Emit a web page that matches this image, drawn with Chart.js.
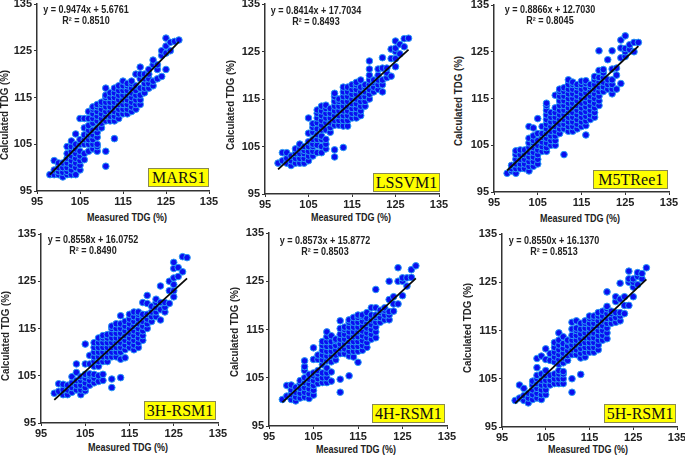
<!DOCTYPE html>
<html><head><meta charset="utf-8">
<style>
html,body{margin:0;padding:0;background:#fff;width:685px;height:456px;overflow:hidden}
body{filter:blur(0.35px)}
canvas{position:absolute}
.t{position:absolute;font-family:"Liberation Sans",Arial,sans-serif;font-weight:bold;color:#222;white-space:nowrap;transform:translate(-50%,-50%) scaleX(.9);line-height:1}
.yt{transform:translate(-50%,-50%) rotate(-90deg) scaleX(.97)}
.tag{position:absolute;box-sizing:border-box;background:#ffff00;border:1px solid #8a8a50;font-family:"Liberation Serif","Times New Roman",serif;font-size:16px;color:#111;text-align:center;line-height:17px;white-space:nowrap}
</style>
<script src="https://cdn.jsdelivr.net/npm/chart.js@4/dist/chart.umd.min.js"></script>
</head><body>
<script>
const measured=[98,99,100,101,102,103,104,105,106,107,108,109,110,111,112,113,114,115,116,117,118,119,120,121,122,123,124,125,126,127,128];
const fitX=[98,128];
const axisTicks=[95,105,115,125,135];

const mars1=[[98.5],[98.5,99.5,101.5],[98.5,99.2,100,101],[98,99,100,101],[98.5,99.2,100,101,102,103,104.5],[98.5,99.5,100.5,101.5,102.5,103.5,104.5,105.7],[98.5,100,101,102,103,104,105,107.2],[99.5,100.5,101.5,102.5,103.5,105,106,110.5],[101.7,103,105,106,107,108.5,110.5],[103.5,105,106,107,108,109,110.5,112],[104,105,106,107,108,109.5,110.5,111.5,112.5,113],[103.5,104.5,105,106.5,107.5,108.5,110,111,112,113,113.5],[108.5,109.5,110.5,111.5,112.5,113.5,114],[100.3,103.5,110,111,112,113,114,115,115.5,117],[110,111,112,113,114,115,116],[106.2,110,111,112,113,114,115,116,117],[110.5,111.5,112.5,113.5,114.5,115.5,116.5,117.5],[111.5,112.5,113.5,114.5,115.5,116.5,117.5,118.5],[111.5,112.5,113.5,114.5,115.5,116.5,117.5,118],[112,113,114,115,116,117,118,118.5],[112.5,113.5,114.5,115.5,116.5,117.5,120],[113.5,114.5,115.5,117,119,120,121.5],[116,117,118,119,120],[117,118,119,120,121],[117.5,118.5,122,123],[119,121,122],[119.5,124,125],[121,124.5,126,127.7],[125,126.8],[127],[127.3]];
const mars1Fit=[98.5,126.9];

const lssvm1=[[101.5],[102,103.7],[101.5,102.5,103.7],[101,102,103],[101.5,102.5,103.5,104.5],[101.5,102.5,103.5,104.5,105.5],[101.5,102.5,103.5,104.2,105],[102,103,104,105,106,107.8,111],[103,104,105,105.5,106.5,108,109,109.8],[103.7,105.3,106.5,107.5,108.7,110,111,112,112.7],[103.7,105,106.5,107.2,108.5,109.5,110.5,111.5,112.5,113.5],[104.5,105.5,106.5,108.5,110,111,112,113,113.7],[108,109,110,111,112,113],[102.8,104.3,109.5,110.5,111.5,112.5,113.5,114.5,115.5,116.2],[109.5,110.5,111.5,112.5,113.5,114.5,115],[104.8,109.3,110.5,111.5,112.5,113.5,114.5,115.5,116.5,117.5],[109.3,110.5,111.5,112.5,113.5,114.5,115.5,116.5,117.5],[111,112,113,114,115,116,117,118],[111,112,113,114,115,116,117,118,118.5],[111.5,112.5,113.5,114.5,115.5,116.5,117.5,119],[113.5,114.5,115.5,116.5,117.5,118],[115,116,117,118,119,120,121.3,123],[116.5,117.5,118.5,119],[117,118,119,120,121.3],[116.5,118,119,121.5,123.7],[119.5,120.5,121.5],[119.8,123.5,125.5],[121.8,123.5,125,125.7,127.2],[124.5,126.5],[126,127.7],[127.8]];
const lssvm1Fit=[100.2,125.4];

const m5tree1=[[99],[99.5,100,100.7],[99,100,101,102,103,103.8],[100,101,102,103,104],[100,101,102,103,104],[99.5,100.5,101.5,102.5,103.5,104.5,105.5,106.5,109],[100.5,101.5,102.5,103.5,104.5,105.5,106,107,108.7],[101,102,103,104,105,106,107.5,110.7],[103.7,104.7,105.7,106.7,107.5,109],[103.7,104.5,105.5,106.5,107.5,108.5,109.5,110.5,111.5,112.5,113.5,114],[105,106,107,108,109,110,111,112],[105,106,107,108,109,110,111,112,113,115.7],[107.5,108.5,109.5,110.5,111.5,112.5,113.5,114.5,115.5,116.5,117],[103,108.5,109.5,110.5,111.5,112.5,113.5,114.5,115.5,116.5,117.3],[108,109,110,111,112,113,114,115,116,117,118,119],[108,109,110,111,112,113,114,115,116,117,118,118.5],[108.5,109.5,110.5,111.5,112.5,113.5,114.5,115.5,116.5,117.5,118],[109,110,111,112,113,114,115,116,117,118,118.7],[107.2,109.2,110.2,111.2,112.2,113.2,114.2,115.2,116.2,117.2,118.2,118.8],[110.5,111.5,112.5,113.5,114.5,115.5,116.5,117.5,118],[111,112,113,114,115,116,117,118,119,119.7],[113.5,114.5,115.5,116.5,117.5,118.5,119.5,121,125.2],[116.5,117.5,118.5,119.5,120.5,121.2],[117,118,119,123.3],[116,117,118,119,121.3,125.2],[117,120,121.5],[118.2,123.7,125.8,127.5],[124,125,125.7,128.4],[125.5,126.5],[125,127],[127]];
const m5tree1Fit=[99.6,126.2];

const rsm3h=[[101.3],[101.7,103.3],[101,102,103.2],[101,102,103],[101.5,102.5,103.5,104.8],[102,103,104,105.7,107.5],[101,102,103,104,104.8],[101.8,102.5,103.5,104.5,105.3,107.5,111.7],[103,104,105,105.4,107.5,109.3],[103.5,104.5,105.3,107,108,109,110,111,112],[103.8,105,107,108,109,110,111,112,113],[104,105.3,108,109,110,111,112,113,113.5],[108,109,110,111,112,113,113.7],[102.5,104.3,109,110,111,112,113,114,115,115.5],[109,110,111,112,113,114,115,116],[104.6,108.5,110,111,112,113,114,115,116,117.7],[108.8,110.5,111.5,112.5,113.5,114.5,115.5,116.5],[111,112,113,114,115,116,117,118],[110.5,111.5,112.5,113.5,114.5,115.5,116.5,117.5,118.5],[111,112,113,114,115,116,117,118,118.5],[112.5,113.5,114.5,115.5,116.5,117.5,118,120.5],[115,116,117,118,120.3,122],[116.5,117.5,118.5,119.7],[117.5,118.5,119.5,120.5,121.2],[116.8,119,120.5,124],[118.5,119.5,120.5],[120.3,123,125],[121.7,123,124.3,125.7,127.7,129],[126,127.9],[127,130.2],[130]];
const rsm3hFit=[99.9,125.6];

const rsm4h=[[100.5],[101.2,103.4],[100.5,101.5,102.5,103.5],[100.2,101,102,103],[100.8,101.8,102.8,103.8,104.4],[101,102,103,104,105,106.5,107.3,108.5],[100.7,101.7,102.7,103.7,104.7,105.7],[101.4,102.4,103.4,104.4,105.4,106,108.8,111.2],[103.8,104.8,105.8,106.5,108.8,109.7],[104,105,106,107.7,108.7,109.7,110.7,111.7,112.5],[104,105,106,107,108.5,109.5,110.5,111.5,112.5,113.5,114.5],[104.3,106.2,108.3,109.5,110.5,111.5,112.5,113.7],[108.7,109.7,110.7,111.7,112.7,113],[102,104.7,110,111,112,113,114,115.2,116.8],[110,111,112,113,114,115,115.5],[105.4,109.5,110.5,111.5,112.5,113.5,114.5,115.5,116.5,117],[109.3,110.5,111.5,112.5,113.5,114.5,115.5,116.5,117.5],[108.2,110.5,111.5,112.5,113.5,114.5,115.5,116.5,117.5,118],[110.7,111.7,112.7,113.7,114.7,115.7,116.7,117.7,118],[111.3,112.3,113.3,114.3,115.3,116.3,117.3,118.5],[113,114,115,116,117,118,119.5],[113.3,114.5,115.5,116.5,117.5,118,119.5,123.3],[116.5,117.5,118.5,119],[117,118,119,119.5],[117,118,118.7,121.2,125],[118.8,120.3,121.8],[120.3,125,127.8],[122,125,125.7],[124,125.7],[125.8,127.4],[128.2]];
const rsm4hFit=[99.9,125.6];

const rsm5h=[[100.5],[101,103.7],[100.5,101.5,103],[100,101,102],[100.7,101.7,102.7,103.7,104.5],[101,102,103,104,105,105.7,107.3,109.2],[100.7,101.7,102.7,103.7,104.7,106,109.7],[101.7,102.7,103.7,104.7,105.7,106.7,109,111.2],[103.7,104.7,105.7,108.8,110.2],[104,105,106,108.5,109.5,110.5,111.5,112.5],[104,105,106,106.7,108,109,110,111,112,113,114.5],[104,105,106,106.5,108.3,109.3,110.3,111.3,112.3,113.7],[108.8,109.8,110.8,111.8,112.8,113],[102.2,105,110,111,112,113,114,115.3,116.7],[110,111,112,113,114,115,115.5,117],[105.9,109.3,110.3,111.3,112.3,113.3,114.3,115.3,116.5],[109.5,110.5,111.5,112.5,113.5,114.5,115.5,116.5,117],[110.5,111.5,112.5,113.5,114.5,115.5,116.5,117.5,118],[110.5,111.5,112.5,113.5,114.5,115.5,116.5,117.5,118],[111,112,113,114,115,116,117,118,118.7],[113,114,115,116,117,118,119],[113.3,114.5,115.5,116.5,117.5,118.5,119.5,120,123],[116.5,117.5,118.5,119],[116.7,117.7,118.7,121,122],[117,118,118.7,121.5,124.8],[118.5,120.2,122],[120.2,125,125.7,127.3],[122,124,125,125.7],[124.5,126.2,127],[125.7,126.8],[128]];
const rsm5hFit=[99.9,125.6];

const panels=[
 {name:"MARS1",vals:mars1,fit:mars1Fit,eq:"y = 0.9474x + 5.6761",r2:"R² = 0.8510",box:[37,209.3,3.5,190],eqPos:[86,10,21],xt:[126.7,218],yt:[4.5,115],tag:[148.3,167.7,61]},
 {name:"LSSVM1",vals:lssvm1,fit:lssvm1Fit,eq:"y = 0.8414x + 17.7034",r2:"R² = 0.8493",box:[264.7,438.7,4,194],eqPos:[316,10.7,22],xt:[351,218],yt:[231,105],tag:[373,173.3,67]},
 {name:"M5TRee1",vals:m5tree1,fit:m5tree1Fit,eq:"y = 0.8866x + 12.7030",r2:"R² = 0.8045",box:[494.3,669,4.7,191.7],eqPos:[550,10,21],xt:[580,218.7],yt:[459,101],tag:[593.3,170,75]},
 {name:"3H-RSM1",vals:rsm3h,fit:rsm3hFit,eq:"y = 0.8558x + 16.0752",r2:"R² = 0.8490",box:[40.7,217.3,234,423],eqPos:[93,240,250.7],xt:[128,447.7],yt:[6,336],tag:[144,400.7,72]},
 {name:"4H-RSM1",vals:rsm4h,fit:rsm4hFit,eq:"y = 0.8573x + 15.8772",r2:"R² = 0.8503",box:[268.7,447,233.3,426.7],eqPos:[324.7,240.7,251.7],xt:[356,450],yt:[234.7,332],tag:[372.3,404,72.3]},
 {name:"5H-RSM1",vals:rsm5h,fit:rsm5hFit,eq:"y = 0.8550x + 16.1370",r2:"R² = 0.8513",box:[501.7,676.7,234,426.7],eqPos:[554,241,251.7],xt:[588,450],yt:[468,328],tag:[604,404,72.3]}
];

function addText(str,x,y,size,cls){
  const d=document.createElement('div');
  d.className='t '+(cls||'');
  d.style.left=x+'px';d.style.top=y+'px';d.style.fontSize=size+'px';
  d.textContent=str;document.body.appendChild(d);
}
panels.forEach(p=>{
  const [x0,x1,y0,y1]=p.box;
  const L=30,B=16,T=8,R=12;
  const c=document.createElement('canvas');
  const w=Math.round(x1-x0)+L+R,h=Math.round(y1-y0)+T+B;
  c.style.left=(x0-L)+'px';c.style.top=(y0-T)+'px';
  c.style.width=w+'px';c.style.height=h+'px';c.width=w;c.height=h;
  document.body.appendChild(c);
  const pts=[];
  measured.forEach((x,i)=>p.vals[i].forEach(y=>pts.push({x,y})));
  new Chart(c,{type:'scatter',data:{datasets:[
    {type:'line',label:'fit',data:fitX.map((x,i)=>({x,y:p.fit[i]})),borderColor:'#0a0a0a',borderWidth:1.8,pointRadius:0,fill:false,order:0},
    {label:p.name,data:pts,backgroundColor:'#0a0ff0',borderColor:'#2a9cf5',borderWidth:1,pointRadius:3.3,order:1}
  ]},options:{responsive:false,animation:false,devicePixelRatio:1,
    layout:{padding:{top:T,right:R,left:0,bottom:0}},
    plugins:{legend:{display:false},tooltip:{enabled:false}},
    scales:{
      x:{type:'linear',min:95,max:135,afterBuildTicks:s=>{s.ticks=axisTicks.map(v=>({value:v}))},
        afterFit:s=>{s.height=B;s.paddingLeft=0;s.paddingRight=0},
        border:{color:'#333',width:1.5},grid:{drawOnChartArea:false,drawTicks:true,tickLength:3,color:'#333',tickWidth:1},
        ticks:{maxRotation:0,autoSkip:false,padding:1,color:'#222',font:{family:'"Liberation Sans"',size:11,weight:'bold'}}},
      y:{type:'linear',min:95,max:135,afterBuildTicks:s=>{s.ticks=axisTicks.map(v=>({value:v}))},
        afterFit:s=>{s.width=L;s.paddingTop=0;s.paddingBottom=0},
        border:{color:'#333',width:1.5},grid:{drawOnChartArea:false,drawTicks:true,tickLength:3,color:'#333',tickWidth:1},
        ticks:{autoSkip:false,padding:2,color:'#222',font:{family:'"Liberation Sans"',size:11,weight:'bold'}}}
    }}});
  addText(p.eq,p.eqPos[0],p.eqPos[1],10);
  addText(p.r2,p.eqPos[0],p.eqPos[2],10);
  addText('Measured TDG (%)',p.xt[0],p.xt[1],10);
  addText('Calculated TDG (%)',p.yt[0],p.yt[1],10,'yt');
  const g=document.createElement('div');g.className='tag';
  g.style.left=p.tag[0]+'px';g.style.top=p.tag[1]+'px';g.style.width=p.tag[2]+'px';g.style.height='19px';
  g.textContent=p.name;document.body.appendChild(g);
});
</script>
</body></html>
